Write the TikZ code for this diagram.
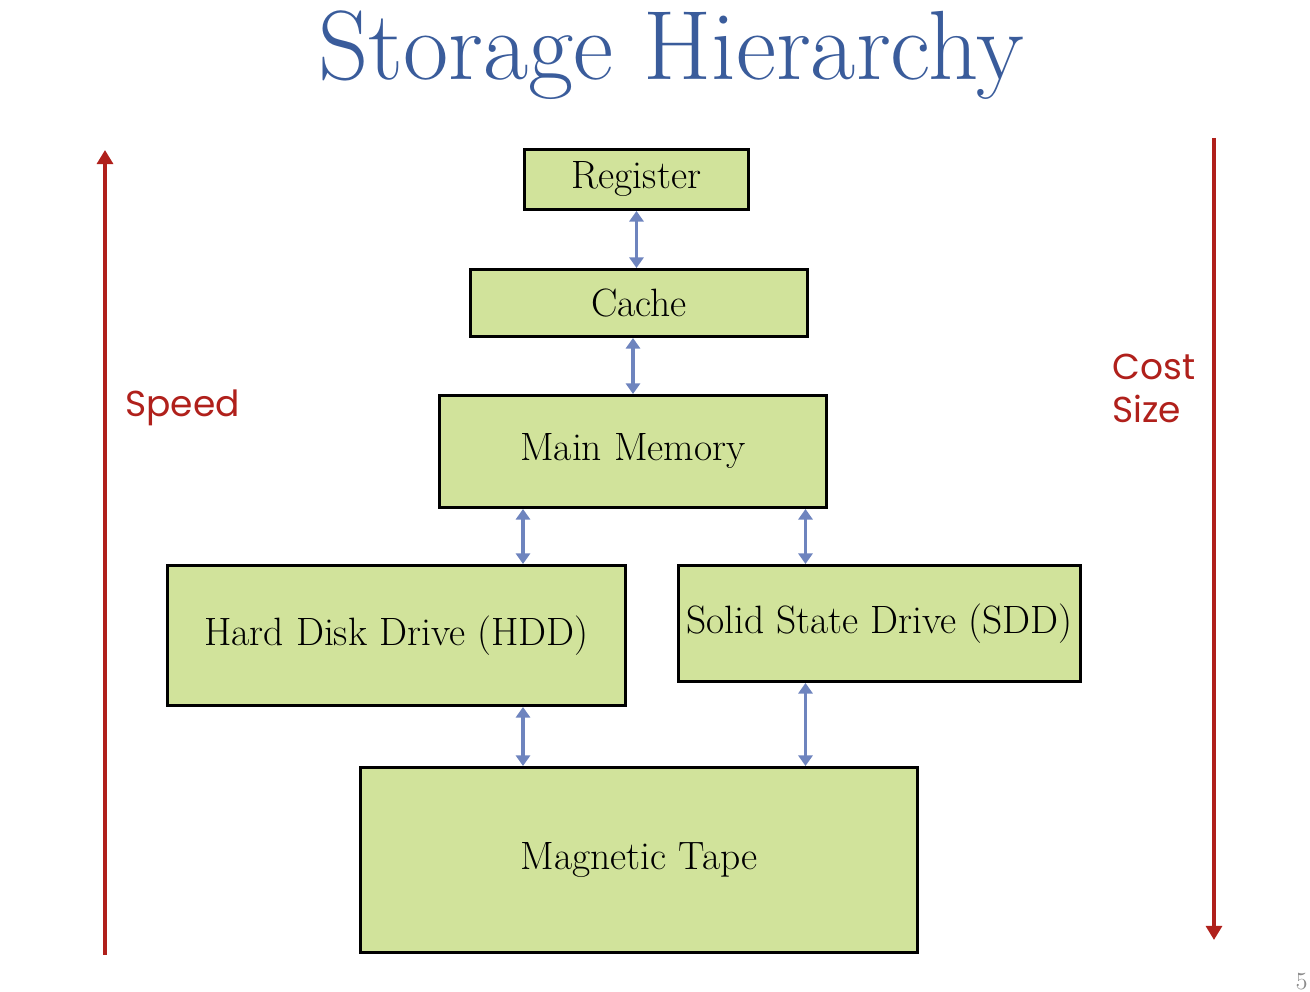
\documentclass[tikz,border=0pt]{standalone}
\usepackage{fontspec}
\newfontfamily\labelfont{Poppins}
\usetikzlibrary{arrows.meta}
\definecolor{boxgreen}{HTML}{D1E39B}
\definecolor{linkblue}{HTML}{6E84BE}
\definecolor{axisred}{HTML}{B0201B}
\definecolor{titleblue}{HTML}{3A5C9B}

\begin{document}
\begin{tikzpicture}[
		level/.style={draw=black, line width=1.7pt, fill=boxgreen, font=\fontsize{22.5}{27}\selectfont, inner sep=0pt},
		link/.style={draw=linkblue, line width=2.2pt, {Triangle[length=6pt,width=8pt]}-{Triangle[length=6pt,width=8pt]}},
		axis/.style={draw=axisred, line width=2.1pt, -{Triangle[length=8pt,width=9pt]}},
		side/.style={text=axisred, font=\labelfont\fontsize{20.5}{24.5}\selectfont}
	]
		%%%%% START %%%%%
		\useasboundingbox (0, 0) rectangle (26.2, 19.84);
		
		\node[anchor=base, text=titleblue, font=\fontsize{56}{66}\selectfont] (title) at (13.42, 18.24) {Storage Hierarchy};
		
		% levels of the hierarchy
		\node[level, minimum width=4.48cm, minimum height=1.2cm] (reg) at (12.73, 16.25) {Register};
		\node[level, minimum width=6.74cm, minimum height=1.34cm] (cache) at (12.78, 13.78) {Cache};
		\node[level, minimum width=7.74cm, minimum height=2.24cm] (mm) at (12.66, 10.81) {Main Memory};
		\node[level, minimum width=9.16cm, minimum height=2.8cm] (hdd) at (7.93, 7.13) {Hard Disk Drive (HDD)};
		\node[level, minimum width=8.04cm, minimum height=2.32cm] (ssd) at (17.59, 7.37) {Solid State Drive (SDD)};
		\node[level, minimum width=11.14cm, minimum height=3.7cm] (tape) at (12.78, 2.64) {Magnetic Tape};
		
		\coordinate (lx) at (10.46, 0);
		\coordinate (rx) at (16.11, 0);
		
		\draw[link] (reg.south) -- (reg.south |- cache.north);
		\draw[link] (mm.north |- cache.south) -- (mm.north);
		\draw[link] (mm.south -| lx) -- (hdd.north -| lx);
		\draw[link] (mm.south -| rx) -- (ssd.north -| rx);
		\draw[link] (hdd.south -| lx) -- (tape.north -| lx);
		\draw[link] (ssd.south -| rx) -- (tape.north -| rx);
		
		% speed and cost axes
		\coordinate (slow) at (2.1, 0.74);
		\coordinate (fast) at (2.1, 16.84);
		\coordinate (dear) at (24.28, 17.08);
		\coordinate (cheap) at (24.28, 1.04);
		\draw[axis] (slow) -- (fast);
		\draw[axis] (dear) -- (cheap);
		
		\node[side, anchor=west, inner sep=0pt] (speed) at (2.5, 11.68) {Speed};
		\node[side, anchor=west, inner sep=0pt, align=left] (cost) at (22.24, 12.07) {Cost\\Size};
		
		\node[anchor=south east, text=black!45, font=\fontsize{14}{16}\selectfont, inner sep=0pt] (page) at (26.16, 0.04) {5};
		
		%%%%% END %%%%%
	\end{tikzpicture}
\end{document}
